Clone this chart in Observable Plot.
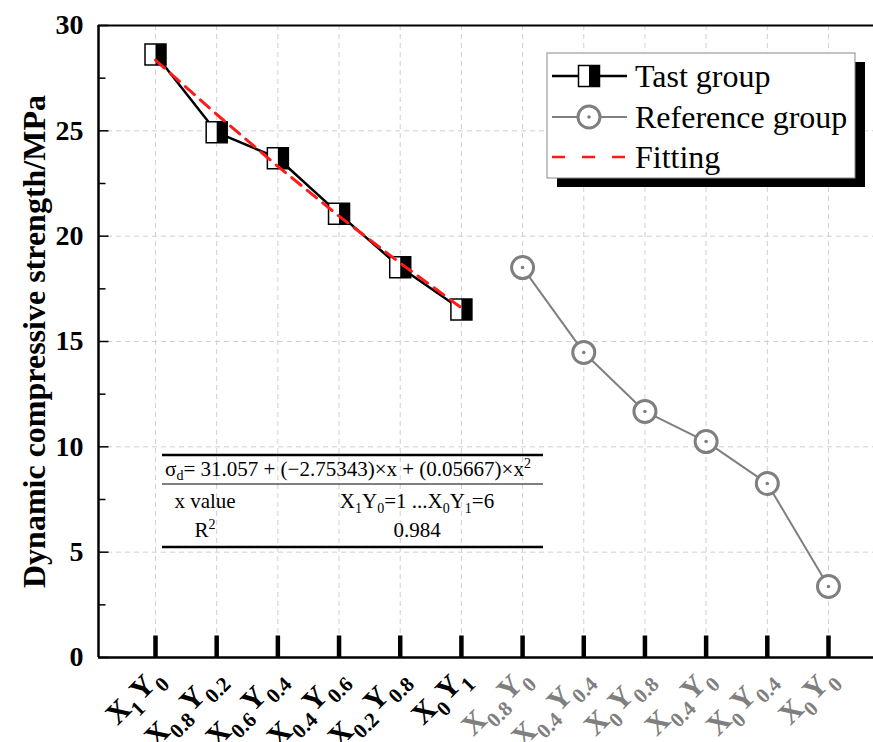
<!DOCTYPE html>
<html>
<head>
<meta charset="utf-8">
<script src="https://cdn.jsdelivr.net/npm/d3@7"></script>
<script src="https://cdn.jsdelivr.net/npm/@observablehq/plot@0.6"></script>
<style>
  html, body { margin: 0; padding: 0; background: #fff; }
  #chart { width: 873px; height: 742px; }
</style>
</head>
<body>
<div id="chart"></div>
<script>
// ---------- data ----------
const categories = ["X1Y0", "X0.8Y0.2", "X0.6Y0.4", "X0.4Y0.6", "X0.2Y0.8", "X0Y1",
                    "X0.8Y0", "X0.4Y0.4", "X0Y0.8", "X0.4Y0", "X0Y0.4", "X0Y0"];
const testPositions = [1, 2, 3, 4, 5, 6];
const referencePositions = [7, 8, 9, 10, 11, 12];
const testGroup = [28.62, 24.93, 23.70, 21.06, 18.52, 16.52];
const referenceGroup = [18.51, 14.48, 11.68, 10.25, 8.26, 3.37];
const fitting = [28.36, 25.78, 23.31, 20.95, 18.72, 16.60];
const yTicks = [0, 5, 10, 15, 20, 25, 30];
const yMinorTicks = [2.5, 7.5, 12.5, 17.5, 22.5, 27.5];
const yGrid = [5, 10, 15, 20, 25];
const legendLabels = ["Tast group", "Reference group", "Fitting"];
const yLabel = "Dynamic compressive strength/MPa";
const equationText = "= 31.057 + (\u22122.75343)\u00d7x + (0.05667)\u00d7x";
const tableLabels = ["x value", "R"];
const tableValues = ["X1Y0=1 ...X0Y1=6", "0.984"];

// ---------- derived tables ----------
const testData = testPositions.map((x, i) => ({x, y: testGroup[i]}));
const refData = referencePositions.map((x, i) => ({x, y: referenceGroup[i]}));
const fitData = testPositions.map((x, i) => ({x, y: fitting[i]}));
const catData = categories.map((c, i) => ({x: i + 1, label: c, group: i < 6 ? "test" : "ref"}));

const xDomain = [1 - 57 / 61.18, 1 - 57 / 61.18 + 775 / 61.18];
const FONT = "'Liberation Serif','Times New Roman',Times,serif";
const GRAY = "#7f7f7f";

const seg = (dx, dy) => ({draw(ctx) { ctx.moveTo(0, 0); ctx.lineTo(dx, dy); }});
const rightHalf = {draw(ctx, size) { const w = Math.sqrt(size); ctx.moveTo(0, -w / 2); ctx.lineTo(w / 2, -w / 2); ctx.lineTo(w / 2, w / 2); ctx.lineTo(0, w / 2); ctx.closePath(); }};
const SQ = 21 / Math.sqrt(Math.PI); // r giving a 21px square

const chart = Plot.plot({
  width: 873, height: 742,
  marginLeft: 98, marginRight: 0, marginTop: 25, marginBottom: 85,
  x: {type: "linear", domain: xDomain, axis: null},
  y: {domain: [0, 30]},
  style: {fontFamily: FONT, background: "white", overflow: "visible", fontWeight: "bold", color: "black"},
  marks: [
    // grid
    Plot.ruleY(yGrid, {stroke: "#cfcfcf", strokeWidth: 1, strokeDasharray: "5,4"}),
    Plot.ruleX(catData, {x: "x", stroke: "#cfcfcf", strokeWidth: 1, strokeDasharray: "5,4"}),
    // frame lines
    Plot.ruleY([0], {stroke: "black", strokeWidth: 2.5}),
    Plot.ruleY([30], {stroke: "black", strokeWidth: 2}),
    Plot.ruleX([xDomain[0]], {stroke: "black", strokeWidth: 2.5}),
    // x ticks (thick, inward)
    Plot.dot(catData, {x: "x", y: () => 0, symbol: seg(0, -22), r: 5, fill: "none", stroke: "black", strokeWidth: 4.5}),
    // y ticks (inward)
    Plot.dot(yTicks, {x: () => xDomain[0], y: d => d, symbol: seg(10, 0), r: 5, fill: "none", stroke: "black", strokeWidth: 1.5}),
    Plot.dot(yMinorTicks, {x: () => xDomain[0], y: d => d, symbol: seg(7, 0), r: 5, fill: "none", stroke: "black", strokeWidth: 1.5}),
    // y axis labels
    Plot.axisY({ticks: yTicks, tickSize: 0, tickPadding: 15, fontSize: 28, fontWeight: "bold", label: null, tickFormat: d3.format("d")}),
    Plot.text([yLabel], {frameAnchor: "left", textAnchor: "middle", rotate: -90, dx: -64, fontSize: 32, fontWeight: "bold", fill: "black"}),
    // x tick labels
    Plot.text(catData.filter(d => d.group === "test"), {x: "x", y: () => 0, text: "label", rotate: -45, textAnchor: "end", dx: 2, dy: 15, fontSize: 30, fontWeight: "bold", fill: "black"}),
    Plot.text(catData.filter(d => d.group === "ref"), {x: "x", y: () => 0, text: "label", rotate: -45, textAnchor: "end", dx: 2, dy: 15, fontSize: 30, fontWeight: "bold", fill: GRAY}),
    // reference group
    Plot.line(refData, {x: "x", y: "y", stroke: GRAY, strokeWidth: 2}),
    Plot.dot(refData, {x: "x", y: "y", r: 11, fill: "white", stroke: GRAY, strokeWidth: 3}),
    Plot.dot(refData, {x: "x", y: "y", r: 1.8, fill: GRAY, stroke: "none"}),
    // test group
    Plot.line(testData, {x: "x", y: "y", stroke: "black", strokeWidth: 2.5}),
    Plot.dot(testData, {x: "x", y: "y", symbol: "square", r: SQ, fill: "white", stroke: "none"}),
    Plot.dot(testData, {x: "x", y: "y", symbol: rightHalf, r: SQ, fill: "black", stroke: "none"}),
    Plot.dot(testData, {x: "x", y: "y", symbol: "square", r: SQ, fill: "none", stroke: "black", strokeWidth: 1.5}),
    // fitting
    Plot.line(fitData, {x: "x", y: "y", stroke: "#ff1a1a", strokeWidth: 3, strokeDasharray: "12,8"})
  ]
});

// subscripts on category labels
const svg = d3.select(chart);
svg.selectAll("text").each(function() {
  const t = this.textContent;
  if (!/^([XY][\d.]+)+$/.test(t)) return;
  const sel = d3.select(this);
  sel.text(null);
  const parts = [...t.matchAll(/([XY])([\d.]+)/g)];
  parts.forEach((m, j) => {
    const main = sel.append("tspan").text(m[1]);
    if (j > 0) main.attr("dy", -9).attr("dx", 2);
    sel.append("tspan").attr("font-size", 21).attr("dy", 9).text(m[2]);
  });
});

// ---------- legend ----------
const lg = svg.append("g").attr("font-family", FONT).attr("font-weight", "normal").attr("text-anchor", "start");
lg.append("rect").attr("x", 557).attr("y", 62).attr("width", 308).attr("height", 125).attr("fill", "black");
lg.append("rect").attr("x", 547).attr("y", 53).attr("width", 308).attr("height", 125).attr("fill", "white").attr("stroke", "#8a8a8a").attr("stroke-width", 1);
const rows = [76, 117, 157];
// row 1: test group
lg.append("line").attr("x1", 552).attr("x2", 627).attr("y1", rows[0]).attr("y2", rows[0]).attr("stroke", "black").attr("stroke-width", 2.5);
lg.append("rect").attr("x", 578.5).attr("y", rows[0] - 10.5).attr("width", 21).attr("height", 21).attr("fill", "white");
lg.append("rect").attr("x", 589).attr("y", rows[0] - 10.5).attr("width", 10.5).attr("height", 21).attr("fill", "black");
lg.append("rect").attr("x", 578.5).attr("y", rows[0] - 10.5).attr("width", 21).attr("height", 21).attr("fill", "none").attr("stroke", "black").attr("stroke-width", 1.5);
// row 2: reference group
lg.append("line").attr("x1", 552).attr("x2", 627).attr("y1", rows[1]).attr("y2", rows[1]).attr("stroke", GRAY).attr("stroke-width", 2);
lg.append("circle").attr("cx", 589).attr("cy", rows[1]).attr("r", 11).attr("fill", "white").attr("stroke", GRAY).attr("stroke-width", 3);
lg.append("circle").attr("cx", 589).attr("cy", rows[1]).attr("r", 1.8).attr("fill", GRAY);
// row 3: fitting
lg.append("line").attr("x1", 552).attr("x2", 627).attr("y1", rows[2]).attr("y2", rows[2]).attr("stroke", "#ff1a1a").attr("stroke-width", 2.5).attr("stroke-dasharray", "13,17");
legendLabels.forEach((l, i) => {
  lg.append("text").attr("x", 635).attr("y", rows[i] + 10.5).attr("font-size", 32).attr("fill", "black").attr("text-anchor", "start").text(l);
});

// ---------- table ----------
const tb = svg.append("g").attr("font-family", FONT).attr("font-weight", "normal").attr("fill", "black");
tb.append("line").attr("x1", 162).attr("x2", 543).attr("y1", 455).attr("y2", 455).attr("stroke", "black").attr("stroke-width", 2.5);
tb.append("line").attr("x1", 162).attr("x2", 543).attr("y1", 484).attr("y2", 484).attr("stroke", "black").attr("stroke-width", 1);
tb.append("line").attr("x1", 162).attr("x2", 543).attr("y1", 547).attr("y2", 547).attr("stroke", "black").attr("stroke-width", 2.5);
const eq = tb.append("text").attr("x", 348).attr("y", 476).attr("text-anchor", "middle").attr("font-size", 21);
eq.append("tspan").text("\u03c3");
eq.append("tspan").attr("font-size", 14).attr("dy", 4).text("d");
eq.append("tspan").attr("dy", -4).text(equationText);
eq.append("tspan").attr("font-size", 14).attr("dy", -8).text("2");
tb.append("text").attr("x", 205).attr("y", 508).attr("text-anchor", "middle").attr("font-size", 21).text(tableLabels[0]);
const r2 = tb.append("text").attr("x", 205).attr("y", 537).attr("text-anchor", "middle").attr("font-size", 21);
r2.append("tspan").text(tableLabels[1]);
r2.append("tspan").attr("font-size", 14).attr("dy", -8).text("2");
const xv = tb.append("text").attr("x", 417).attr("y", 508).attr("text-anchor", "middle").attr("font-size", 21);
{
  const s = tableValues[0];
  const re = /([XY])([\d.]+)/g;
  let last = 0, m, shifted = false;
  while ((m = re.exec(s))) {
    if (m.index > last) { xv.append("tspan").attr("dy", shifted ? -5 : null).text(s.slice(last, m.index)); shifted = false; }
    xv.append("tspan").attr("dy", shifted ? -5 : null).text(m[1]);
    xv.append("tspan").attr("font-size", 14).attr("dy", 5).text(m[2]);
    shifted = true;
    last = re.lastIndex;
  }
  if (last < s.length) xv.append("tspan").attr("dy", shifted ? -5 : null).text(s.slice(last));
}
tb.append("text").attr("x", 417).attr("y", 537).attr("text-anchor", "middle").attr("font-size", 21).text(tableValues[1]);

document.getElementById("chart").appendChild(chart);
</script>
</body>
</html>
